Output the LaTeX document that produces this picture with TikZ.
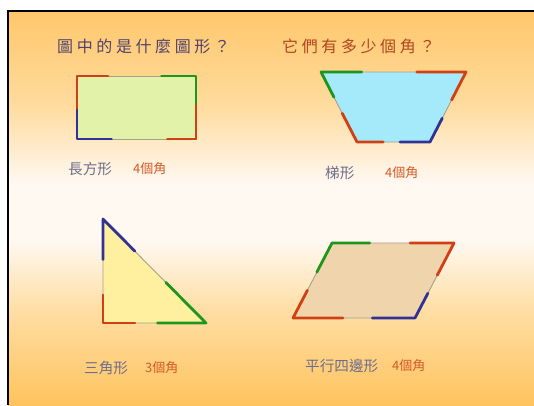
\documentclass[tikz,border=0pt]{standalone}
\usepackage{fontspec}
\newfontfamily\cjk{Noto Sans CJK TC}
\usetikzlibrary{calc}
\definecolor{armred}{RGB}{208,64,20}
\definecolor{armgreen}{RGB}{30,150,30}
\definecolor{armblue}{RGB}{50,50,150}
\definecolor{edgegray}{RGB}{165,160,140}
\definecolor{titlepurple}{RGB}{80,65,110}
\definecolor{titlered}{RGB}{175,70,30}
\definecolor{labelgray}{RGB}{110,110,140}
\definecolor{labelred}{RGB}{210,90,40}
\definecolor{fillrect}{RGB}{226,242,168}
\definecolor{filltrap}{RGB}{165,234,250}
\definecolor{filltri}{RGB}{255,240,160}
\definecolor{fillpar}{RGB}{240,212,172}
% TikZ maps the path's box onto 25bp..75bp of the shading
\pgfdeclareverticalshading{bgshade}{100bp}{%
  rgb(0bp)=(1,0.765,0.37);
  rgb(25bp)=(1,0.765,0.37);
  rgb(37bp)=(1,0.87,0.64);
  rgb(46bp)=(1,0.975,0.95);
  rgb(53bp)=(1,0.975,0.95);
  rgb(63bp)=(1,0.86,0.62);
  rgb(75bp)=(1,0.78,0.42);
  rgb(100bp)=(1,0.78,0.42)}
\tikzset{
  shapeedge/.style={draw=edgegray,line width=0.9pt},
  arm/.style={line width=2.8pt,line cap=round,line join=round},
  redarm/.style={arm,draw=armred},
  greenarm/.style={arm,draw=armgreen},
  bluearm/.style={arm,draw=armblue},
  titletext/.style={font=\cjk\fontsize{16}{18}\selectfont,anchor=west,inner sep=0pt},
  labeltext/.style={font=\cjk\fontsize{14.6}{16}\selectfont,text=labelgray,anchor=west,inner sep=0pt},
  counttext/.style={font=\cjk\fontsize{13}{14}\selectfont,text=labelred,anchor=west,inner sep=0pt},
}
\newcommand{\gp}{\hspace{3.6pt}}
\begin{document}
\begin{tikzpicture}[x=1pt,y=-1pt]
\useasboundingbox (0,0) rectangle (534,405);
\fill[white] (0,0) rectangle (534,405);
\shade[shading=bgshade] (8,11) rectangle (534,405);
\draw[black,line width=2pt] (7,11) -- (534,11);
\draw[black,line width=2pt] (8,10) -- (8,405);

% titles
\node[titletext,text=titlepurple] (t1) at (57,46) {圖\gp 中\gp 的\gp 是\gp 什\gp 麼\gp 圖\gp 形\gp ？};
\node[titletext,text=titlered] (t2) at (282,46) {它\gp 們\gp 有\gp 多\gp 少\gp 個\gp 角\gp ？};

% rectangle
\coordinate (ra) at (77,76);
\coordinate (rb) at (196,76);
\coordinate (rc) at (196,139);
\coordinate (rd) at (77,139);
\fill[fillrect] (ra) -- (rb) -- (rc) -- (rd) -- cycle;
\draw[shapeedge] (ra) -- (rb) -- (rc) -- (rd) -- cycle;
\draw[redarm] ($(ra)!0.26!(rb)$) -- (ra) -- ($(ra)!0.54!(rd)$);
\draw[greenarm] ($(rb)!0.29!(ra)$) -- (rb) -- ($(rb)!0.46!(rc)$);
\draw[redarm] ($(rc)!0.54!(rb)$) -- (rc) -- ($(rc)!0.24!(rd)$);
\draw[bluearm] ($(rd)!0.29!(rc)$) -- (rd) -- ($(rd)!0.46!(ra)$);

% trapezoid
\coordinate (ta) at (321,72);
\coordinate (tb) at (466,72);
\coordinate (tc) at (430,142);
\coordinate (td) at (357,142);
\fill[filltrap] (ta) -- (tb) -- (tc) -- (td) -- cycle;
\draw[shapeedge] (ta) -- (tb) -- (tc) -- (td) -- cycle;
\draw[greenarm] ($(ta)!0.28!(tb)$) -- (ta) -- ($(ta)!0.36!(td)$);
\draw[redarm] ($(tb)!0.34!(ta)$) -- (tb) -- ($(tb)!0.40!(tc)$);
\draw[bluearm] ($(tc)!0.34!(tb)$) -- (tc) -- ($(tc)!0.41!(td)$);
\draw[redarm] ($(td)!0.36!(tc)$) -- (td) -- ($(td)!0.41!(ta)$);

% triangle
\coordinate (ga) at (103,219);
\coordinate (gb) at (103,323);
\coordinate (gc) at (206,323);
\fill[filltri] (ga) -- (gb) -- (gc) -- cycle;
\draw[shapeedge] (ga) -- (gb) -- (gc) -- cycle;
\draw[bluearm] ($(ga)!0.39!(gb)$) -- (ga) -- ($(ga)!0.31!(gc)$);
\draw[redarm] ($(gb)!0.27!(ga)$) -- (gb) -- ($(gb)!0.31!(gc)$);
\draw[greenarm] ($(gc)!0.47!(gb)$) -- (gc) -- ($(gc)!0.39!(ga)$);

% parallelogram
\coordinate (pa) at (332,243);
\coordinate (pb) at (454,243);
\coordinate (pc) at (415,318);
\coordinate (pd) at (293,318);
\fill[fillpar] (pa) -- (pb) -- (pc) -- (pd) -- cycle;
\draw[shapeedge] (pa) -- (pb) -- (pc) -- (pd) -- cycle;
\draw[greenarm] ($(pa)!0.31!(pb)$) -- (pa) -- ($(pa)!0.39!(pd)$);
\draw[redarm] ($(pb)!0.36!(pa)$) -- (pb) -- ($(pb)!0.43!(pc)$);
\draw[bluearm] ($(pc)!0.35!(pd)$) -- (pc) -- ($(pc)!0.33!(pb)$);
\draw[redarm] ($(pd)!0.41!(pc)$) -- (pd) -- ($(pd)!0.37!(pa)$);

% labels
\node[labeltext] (l1) at (68,169) {長方形};
\node[counttext] (c1) at (133,169) {4個角};
\node[labeltext] (l2) at (325,173) {梯形};
\node[counttext] (c2) at (385,173) {4個角};
\node[labeltext] (l3) at (84,368) {三角形};
\node[counttext] (c3) at (145,368) {3個角};
\node[labeltext] (l4) at (305,366) {平行四邊形};
\node[counttext] (c4) at (392,366) {4個角};
\end{tikzpicture}
\end{document}
